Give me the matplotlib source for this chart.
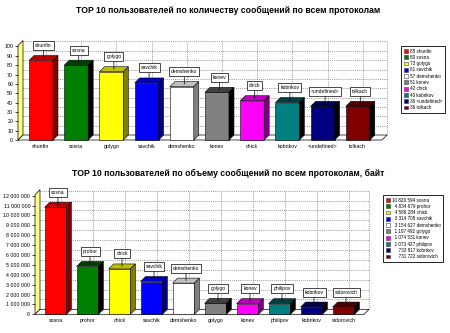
import matplotlib
matplotlib.use("Agg")
import matplotlib.pyplot as plt
from matplotlib.patches import Polygon, Patch
from matplotlib.ticker import FuncFormatter

plt.rcParams['font.family'] = ['Liberation Sans', 'DejaVu Sans']

# ---- data ----
title1 = "TOP 10 пользователей по количеству сообщений по всем протоколам"
users1 = ["shunfin", "sosna", "golygo", "savchik", "demshenko",
          "konev", "chick", "kobrikov", "<undefined>", "tolkach"]
counts1 = [85, 80, 73, 61, 57, 51, 42, 40, 36, 36]
yticks1 = list(range(0, 101, 10))

title2 = "TOP 10 пользователей по объему сообщений по всем протоколам, байт"
users2 = ["sosna", "prohor", "chick", "savchik", "demshenko",
          "golygo", "konev", "philipov", "kobrikov", "sidorovich"]
bytes2 = [10826594, 4834679, 4589284, 3314705, 3154627,
          1107492, 1074531, 1073427, 733817, 731722]
yticks2 = list(range(0, 12000001, 1000000))

# ---- style ----
front = ["#ff0000", "#008000", "#ffff00", "#0000ff", "#ffffff",
         "#808080", "#ff00ff", "#008080", "#000080", "#800000"]
topc = ["#c00000", "#004000", "#c0c000", "#0000c0", "#c0c0c0",
        "#404040", "#c000c0", "#004040", "#000050", "#500000"]
sidec = ["#800000", "#000000", "#808000", "#000080", "#808080",
         "#000000", "#800080", "#000000", "#000000", "#000000"]

W, H = 450, 333
fig = plt.figure(figsize=(W / 100, H / 100), dpi=100)


def fmt_space(v, pos=None):
    return f"{int(v):,}".replace(",", " ")


def pad_num(s, ref):
    nd = sum(c.isdigit() for c in ref) - sum(c.isdigit() for c in s)
    ns = ref.count(" ") - s.count(" ")
    return "\u2007" * nd + " " * ns + s


def make_chart(title, title_y, names, vals, ticks, px_left, px_right,
               px_y0, px_ytop, c0, step, yfmt, legend_labels, leg_xy):
    ax = fig.add_axes([px_left / W, (H - px_y0) / H,
                       (px_right - px_left) / W, (px_y0 - px_ytop) / H])
    xl = (px_left - c0) / step
    xr = (px_right - c0) / step
    ymax = ticks[-1]
    ax.set_xlim(xl, xr)
    ax.set_ylim(0, ymax)
    for s in ax.spines.values():
        s.set_visible(False)
    ax.patch.set_visible(False)
    fig.canvas.draw()
    inv = ax.transData.inverted()
    p0 = inv.transform((0, 0))
    p1 = inv.transform((5, 5))
    dx, dy = p1[0] - p0[0], p1[1] - p0[1]

    # left wall
    ax.add_patch(Polygon([(xl, 0), (xl, ymax + dy * 0.2), (xl + dx, ymax + dy * 1.2),
                          (xl + dx, dy)], closed=True, facecolor="#ffff80",
                         edgecolor="black", lw=0.5, clip_on=False, zorder=1))
    # floor
    ax.add_patch(Polygon([(xl, 0), (xr, 0), (xr + dx, dy), (xl + dx, dy)],
                         closed=True, facecolor="white", edgecolor="black",
                         lw=0.5, clip_on=False, zorder=1))
    # grid on back plane
    gs = dict(ls=(0, (1, 1.3)), color="#808080", lw=0.6, clip_on=False, zorder=0.5)
    for t in ticks[1:]:
        ax.plot([xl + dx, xr + dx], [t + dy, t + dy], **gs)
    for i in range(len(names)):
        ax.plot([i + dx, i + dx], [dy, ymax + dy], **gs)
    ax.plot([xr + dx, xr + dx], [dy, ymax + dy], **gs)

    bw = 0.68
    x = list(range(len(names)))
    ax.bar(x, vals, width=bw, color=front, edgecolor="black", lw=0.4,
           zorder=3, clip_on=False)
    for i, v in enumerate(vals):
        a, b = i - bw / 2, i + bw / 2
        ax.add_patch(Polygon([(a, v), (b, v), (b + dx, v + dy), (a + dx, v + dy)],
                             closed=True, facecolor=topc[i], edgecolor="black",
                             lw=0.4, zorder=3, clip_on=False))
        ax.add_patch(Polygon([(b, 0), (b, v), (b + dx, v + dy), (b + dx, dy)],
                             closed=True, facecolor=sidec[i], edgecolor="black",
                             lw=0.4, zorder=3, clip_on=False))
        ax.annotate(names[i], xy=(i + dx / 2, v + dy / 2), xytext=(0, 9),
                    textcoords="offset points", ha="center", va="center",
                    fontsize=3.6, zorder=5,
                    bbox=dict(boxstyle="square,pad=0.4", fc="white",
                              ec="black", lw=0.5),
                    arrowprops=dict(arrowstyle="-", color="black", lw=0.5,
                                    shrinkA=0, shrinkB=0))

    ax.set_xticks(x)
    ax.set_xticklabels(names, fontsize=3.8)
    ax.tick_params(axis="x", length=0, pad=3)
    ax.set_yticks(ticks)
    ax.yaxis.set_major_formatter(FuncFormatter(yfmt))
    ax.tick_params(axis="y", length=2.5, width=0.5, labelsize=3.8, pad=1)

    fig.text(228 / W, 1 - title_y / H, title, ha="center", va="center",
             fontsize=6.2, fontweight="bold")

    handles = [Patch(facecolor=front[i], edgecolor="#404040", lw=0.4)
               for i in range(len(names))]
    leg = fig.legend(handles, legend_labels, loc="upper left",
                     bbox_to_anchor=(leg_xy[0] / W, 1 - leg_xy[1] / H),
                     fontsize=3.3, handlelength=0.9, handleheight=0.9,
                     handletextpad=0.5, labelspacing=0.28, borderpad=0.55,
                     fancybox=False, framealpha=1, borderaxespad=0)
    leg.get_frame().set_edgecolor("black")
    leg.get_frame().set_linewidth(0.6)
    return ax


labels1 = [f"{v} {n}" for v, n in zip(counts1, users1)]
nums2 = [fmt_space(v) for v in bytes2]
labels2 = [f"{pad_num(s, nums2[0])} {n}" for s, n in zip(nums2, users2)]

make_chart(title1, 10, users1, counts1, yticks1, 18, 382, 140, 46.5, 41, 35.2,
           lambda v, p: f"{int(v)}", labels1, (401, 46))
make_chart(title2, 173, users2, bytes2, yticks2, 35, 364, 314.3, 195.7, 55.5, 32,
           fmt_space, labels2, (383, 195))

fig.savefig("out.png", dpi=100, facecolor="white")
